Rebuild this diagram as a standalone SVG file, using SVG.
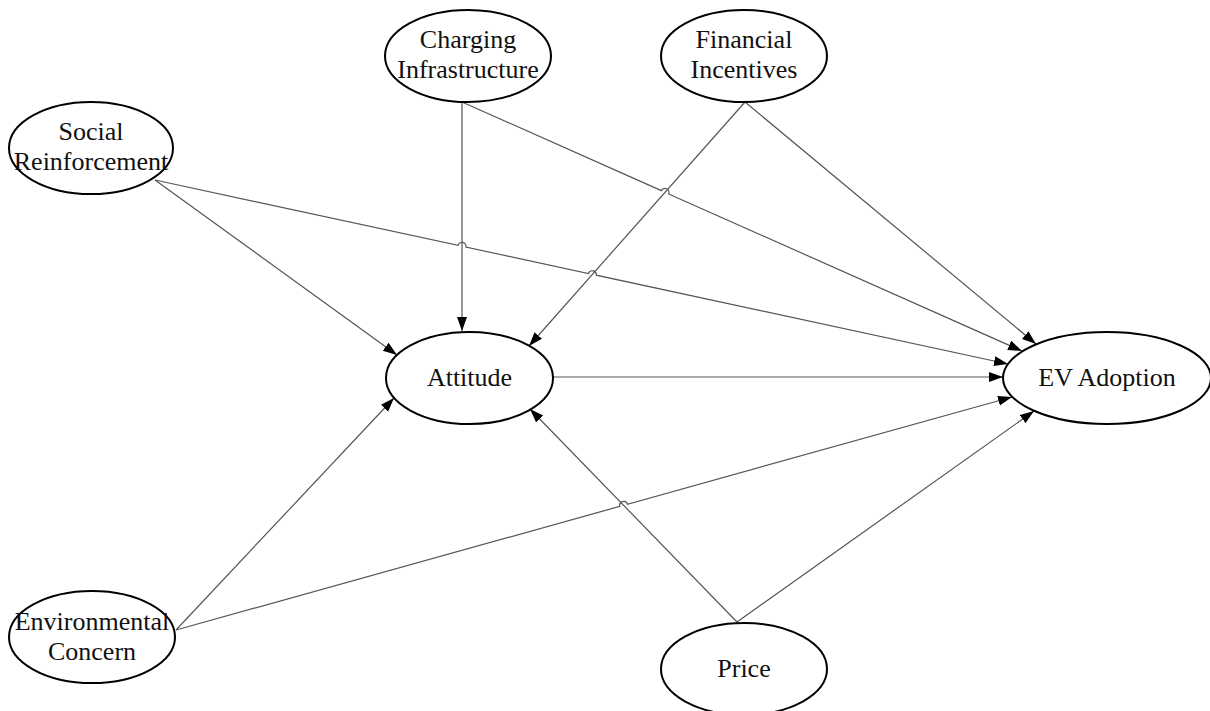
<svg xmlns="http://www.w3.org/2000/svg" width="1210" height="711" viewBox="0 0 1210 711">
<style>
.n ellipse{fill:#fff;stroke:#000;stroke-width:2}
.n text{font-family:"Liberation Serif","Times New Roman",serif;font-size:26px;fill:#111;text-anchor:middle}
.c path{fill:none;stroke:#555;stroke-width:1.2;marker-end:url(#ah)}
</style>
<defs>
<marker id="ah" markerUnits="userSpaceOnUse" markerWidth="15" markerHeight="11" refX="14" refY="5" orient="auto">
<path d="M0,0 L14,5 L0,10 z" fill="#000"/>
</marker>
</defs>
<rect width="1210" height="711" fill="#fff"/>
<g id="connectors" class="c">
<path d="M462,102 L462,331"/>
<path d="M462,102 L661.35,190.67 A4,4 0 0 1 668.65,193.93 L1022,351"/>
<path d="M745,102 L529,346"/>
<path d="M745,102 L1036,344"/>
<path d="M155,180 L397,355"/>
<path d="M155,180 L458.09,245.36 A4,4 0 0 1 465.91,247.04 L588.5,273.6 A4,4 0 0 1 596.3,275.2 L1008,364"/>
<path d="M553,377 L1003,377"/>
<path d="M176,630 L394,398"/>
<path d="M176,630 L619.75,506.37 A4,4 0 0 1 627.45,504.23 L1012,397"/>
<path d="M737,622 L530,409"/>
<path d="M737,622 L1034,411"/>
</g>
<g id="charging" class="n"><ellipse cx="468" cy="56" rx="83" ry="46"/><text x="468" y="48">Charging</text><text x="468" y="78">Infrastructure</text></g>
<g id="financial" class="n"><ellipse cx="744" cy="56" rx="83" ry="46"/><text x="744" y="48">Financial</text><text x="744" y="78">Incentives</text></g>
<g id="social" class="n"><ellipse cx="91" cy="148" rx="82" ry="46"/><text x="91" y="140">Social</text><text x="91" y="170">Reinforcement</text></g>
<g id="attitude" class="n"><ellipse cx="469.5" cy="378" rx="83.5" ry="46"/><text x="469.5" y="386">Attitude</text></g>
<g id="ev" class="n"><ellipse cx="1107" cy="378" rx="104" ry="46"/><text x="1107" y="386">EV Adoption</text></g>
<g id="environmental" class="n"><ellipse cx="92" cy="637" rx="83" ry="46"/><text x="92" y="630">Environmental</text><text x="92" y="660">Concern</text></g>
<g id="price" class="n"><ellipse cx="744" cy="669" rx="83" ry="46"/><text x="744" y="677">Price</text></g>
</svg>
